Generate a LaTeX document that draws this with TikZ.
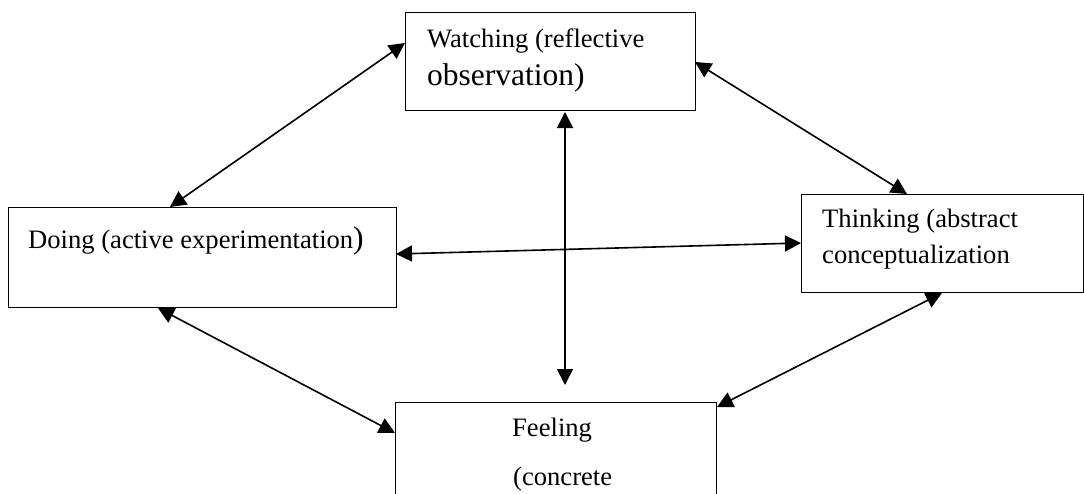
\documentclass[tikz,border=0pt]{standalone}
\usepackage{fontspec}
\setmainfont{Liberation Serif}
\usetikzlibrary{arrows.meta}
\tikzset{
  boxnode/.style={draw=black, line width=1pt, rectangle, inner sep=0pt},
  lbl/.style={anchor=base west, inner sep=0pt, font=\fontsize{26.6}{30}\selectfont},
  biglbl/.style={anchor=base west, inner sep=0pt, font=\fontsize{31.5}{36}\selectfont},
  link/.style={line width=1.6pt, {Triangle[length=16pt,width=16pt]}-{Triangle[length=16pt,width=16pt]}},
}
\begin{document}
\begin{tikzpicture}[x=1pt,y=-1pt]
\useasboundingbox (0,0) rectangle (1084,493);
\clip (0,0) rectangle (1084,493);
% boxes
\node[boxnode, minimum width=290pt, minimum height=98pt] (W) at (550,61) {};
\node[boxnode, minimum width=388pt, minimum height=100pt] (D) at (202,257) {};
\node[boxnode, minimum width=282pt, minimum height=98pt] (T) at (942,243) {};
\node[boxnode, minimum width=321pt, minimum height=120pt] (F) at (555.5,462) {};
% texts
\node[lbl] (w1) at (427,47) {Watching (reflective};
\node[biglbl] (w2) at (427,85) {observation)};
\node[lbl] (d1) at (28,248) {Doing (active experimentation\fontsize{31.5}{36}\selectfont)};
\node[lbl] (t1) at (822,227) {Thinking (abstract};
\node[lbl] (t2) at (822,263) {conceptualization};
\node[lbl] (f1) at (512,436) {Feeling};
\node[lbl] (f2) at (513,485) {(concrete};
% connector ends
\coordinate (a1s) at (405,43);  \coordinate (a1e) at (170,207);
\coordinate (a2s) at (695,62);  \coordinate (a2e) at (907,194);
\coordinate (a3s) at (565,112); \coordinate (a3e) at (565,385);
\coordinate (a4s) at (396,254); \coordinate (a4e) at (801,243);
\coordinate (a5s) at (158,308); \coordinate (a5e) at (395,433);
\coordinate (a6s) at (717,407); \coordinate (a6e) at (942,293);
\draw[link] (a1s) -- (a1e);
\draw[link] (a2s) -- (a2e);
\draw[link] (a3s) -- (a3e);
\draw[link] (a4s) -- (a4e);
\draw[link] (a5s) -- (a5e);
\draw[link] (a6s) -- (a6e);
\end{tikzpicture}
\end{document}
